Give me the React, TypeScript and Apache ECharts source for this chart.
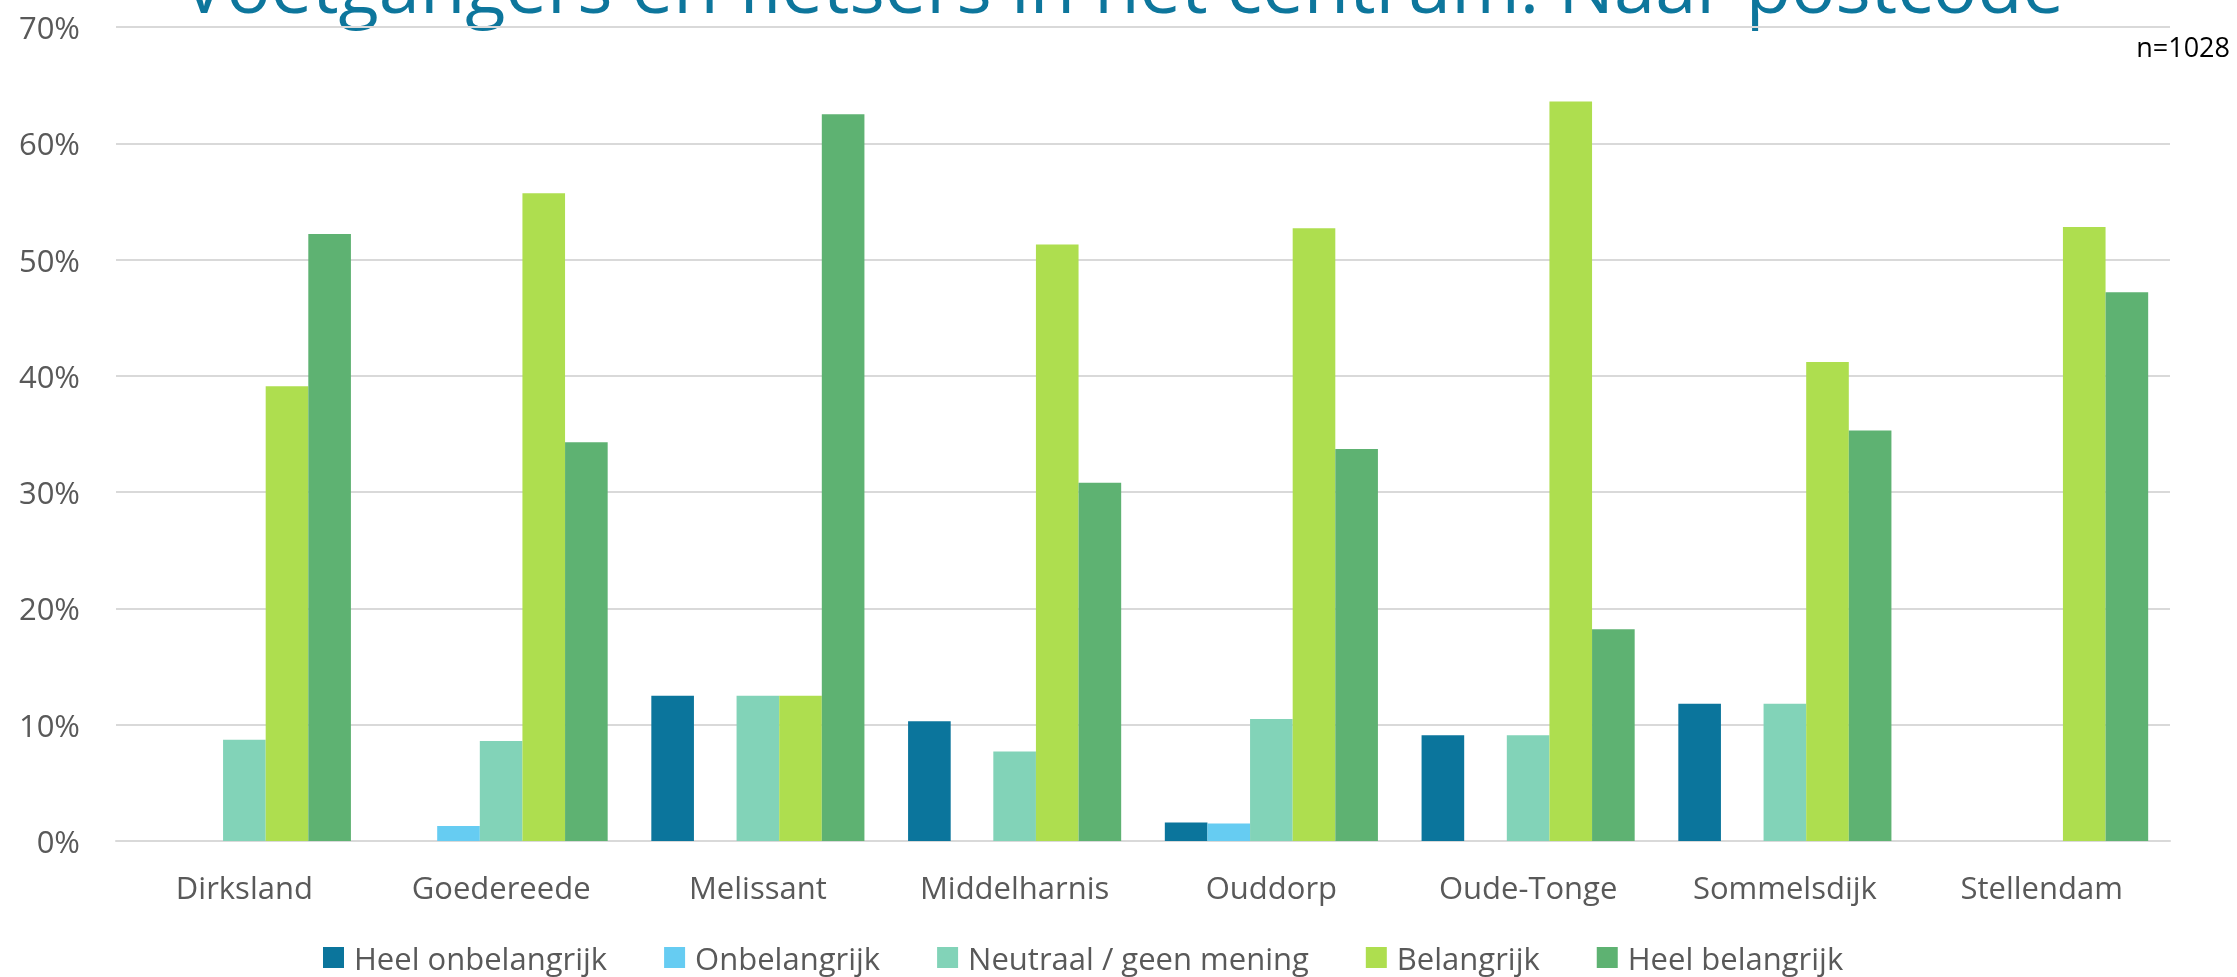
import React, { useEffect, useRef } from "react";
import * as echarts from "echarts";

const categories = ["Dirksland", "Goedereede", "Melissant", "Middelharnis", "Ouddorp", "Oude-Tonge", "Sommelsdijk", "Stellendam"];
const seriesNames = ["Heel onbelangrijk", "Onbelangrijk", "Neutraal / geen mening", "Belangrijk", "Heel belangrijk"];
const heelOnbelangrijk = [0, 0, 12.5, 10.3, 1.6, 9.1, 11.8, 0];
const onbelangrijk = [0, 1.3, 0, 0, 1.5, 0, 0, 0];
const neutraal = [8.7, 8.6, 12.5, 7.7, 10.5, 9.1, 11.8, 0];
const belangrijk = [39.1, 55.7, 12.5, 51.3, 52.7, 63.6, 41.2, 52.8];
const heelBelangrijk = [52.2, 34.3, 62.5, 30.8, 33.7, 18.2, 35.3, 47.2];
const colors = ["#0B759C", "#66CCF2", "#82D3B8", "#AEDE4F", "#5EB272"];
const titleText = "Voetgangers en fietsers in het centrum: Naar postcode";
const noteText = "n=1028";

export default function App() {
  const ref = useRef<HTMLDivElement>(null);
  useEffect(() => {
    if (!ref.current) return;
    const chart = echarts.init(ref.current, null, { renderer: "svg" });
    const values = [heelOnbelangrijk, onbelangrijk, neutraal, belangrijk, heelBelangrijk];
    const font = "'Open Sans', sans-serif";
    chart.setOption({
      animation: false,
      color: colors,
      textStyle: { fontFamily: font },
      grid: { left: 116, right: 67, top: 27, bottom: 136, containLabel: false },
      xAxis: {
        type: "category",
        data: categories,
        axisLine: { lineStyle: { color: "#D9D9D9", width: 2 } },
        axisTick: { show: false },
        axisLabel: { color: "#595959", fontSize: 31, fontFamily: font, margin: 30 },
      },
      yAxis: {
        type: "value",
        min: 0,
        max: 70,
        interval: 10,
        axisLine: { show: false },
        axisTick: { show: false },
        splitLine: { lineStyle: { color: "#D9D9D9", width: 2 } },
        axisLabel: { color: "#595959", fontSize: 31, fontFamily: font, margin: 36, formatter: (v: number) => v + "%" },
      },
      legend: {
        data: seriesNames,
        left: 318,
        top: 937,
        itemWidth: 21,
        itemHeight: 21,
        itemGap: 57,
        icon: "rect",
        textStyle: { color: "#595959", fontSize: 31, fontFamily: font, padding: [0, 0, 0, 5] },
      },
      graphic: [
        {
          type: "text",
          x: 1123,
          y: -16,
          style: { text: titleText, fill: "#0D769C", font: "74px 'Open Sans', sans-serif", align: "center", verticalAlign: "middle" },
        },
        {
          type: "text",
          x: 2230,
          y: 46,
          style: { text: noteText, fill: "#000000", font: "27px 'Open Sans', sans-serif", align: "right", verticalAlign: "middle" },
        },
      ],
      series: seriesNames.map((name, i) => ({
        name,
        type: "bar",
        data: values[i],
        barGap: "0%",
        barCategoryGap: "17%",
        itemStyle: { color: colors[i] },
      })),
    });
    return () => chart.dispose();
  }, []);
  return <div ref={ref} style={{ position: "fixed", left: 0, top: 0, width: 2237, height: 977 }} />;
}
